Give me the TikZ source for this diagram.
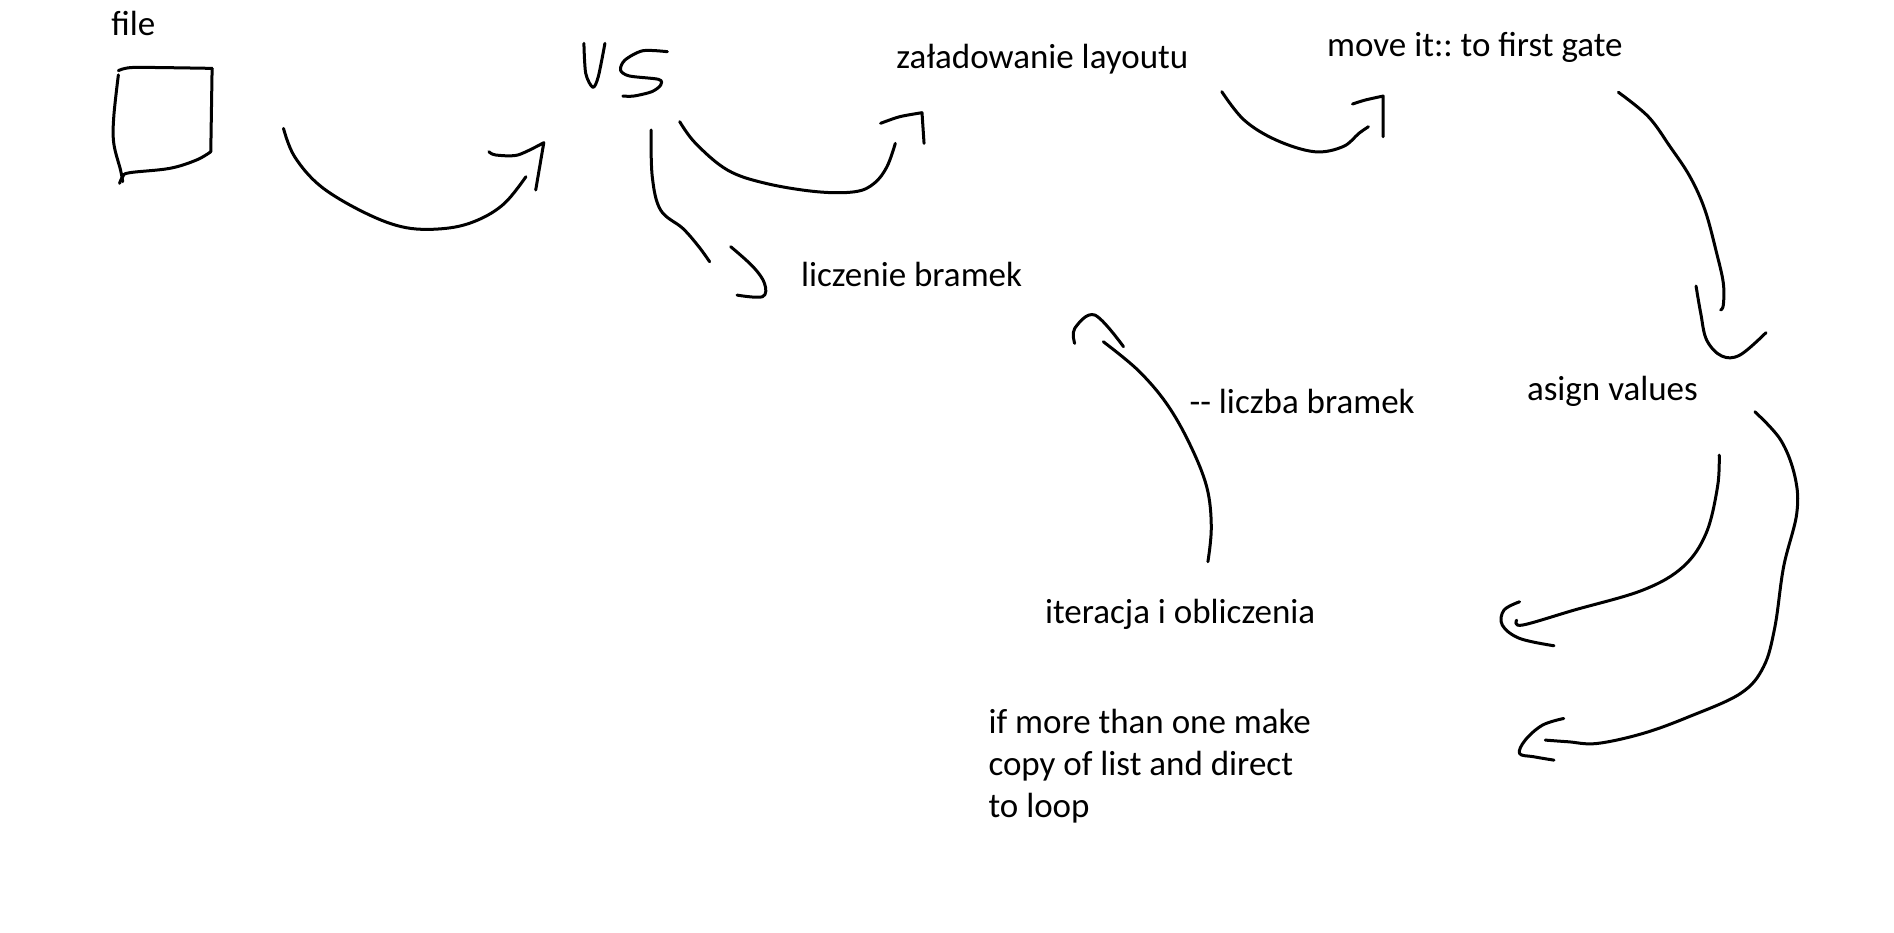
\documentclass[tikz,border=0pt]{standalone}
\usepackage{fontspec}
\setmainfont{Carlito}
\frenchspacing
\begin{document}
\begin{tikzpicture}[x=1.2079pt,y=-1.2079pt,
  pen/.style={line width=3pt,line cap=round,line join=round,black},
  lbl/.style={anchor=base west,inner sep=0pt,font=\fontsize{35}{42}\selectfont}]
\useasboundingbox[fill=white] (0,0) rectangle (1568,772);

% texts
\node[lbl] (file) at (92,29) {file};
\node[lbl] (zal) at (742,56.6) {załadowanie layoutu};
\node[lbl] (move) at (1098.6,47) {move it:: to first gate};
\node[lbl] (licz) at (663,237.4) {liczenie bramek};
\node[lbl] (liczba) at (984.7,342.2) {-{}- liczba bramek};
\node[lbl] (asign) at (1264,331.2) {asign values};
\node[lbl] (iter) at (865,516.1) {iteracja i obliczenia};
\node[lbl] (ifmore) at (818.2,607.2) {\begin{tabular}[t]{@{}l@{}}if more than one make\\copy of list and direct\\to loop\end{tabular}};

% file box
\draw[pen] plot[smooth,tension=0.4] coordinates {(98,58.5) (110.9,55.8) (175.6,56.6)};
\draw[pen] (175.6,56.6) -- (174.5,125.6);
\draw[pen] plot[smooth,tension=0.6] coordinates {(174.5,125.6) (162.6,132.5) (140.4,139.4) (107.2,143) (101.6,146.3) (99,151.8)};
\draw[pen] plot[smooth,tension=0.6] coordinates {(98,62) (94.2,96.6) (94.2,118.7) (99.8,140.8) (101.6,150.4)};

% arrow file -> VS
\draw[pen] plot[smooth,tension=0.6] coordinates {(234.7,106.3) (243.9,129.7) (266,154.6) (303,176.6) (336.3,188.5) (369.6,189) (395.5,182.2) (417.6,168.4) (435.4,146.3)};
\draw[pen] plot[smooth,tension=0.5] coordinates {(404.7,125.6) (410.3,128.3) (428.7,128.3) (450.2,118.1)} -- (443.5,157.3);

% VS handwritten
\draw[pen] plot[smooth,tension=0.5] coordinates {(483.4,35.9) (484.9,60.7) (490.8,72.3) (495.3,63.5) (500.8,35.9)};
\draw[pen] plot[smooth,tension=0.5] coordinates {(552.5,42.8) (532.2,42) (517.4,49.7) (513.7,58) (521.1,62.9) (545.2,65.7) (547,70.4) (539.6,75.9) (524.8,79.5) (515.6,79.5)};

% arrow VS -> zaladowanie
\draw[pen] plot[smooth,tension=0.6] coordinates {(562.7,100.7) (575.9,118.7) (602.3,140.8) (634,151.8) (676.2,158.7) (707.9,158.7) (723.7,151.8) (734.3,138) (741.2,118.7)};
\draw[pen] plot[smooth,tension=0.5] coordinates {(729,102.1) (744.9,96.6) (763.3,93.3)} -- (765,118.7);

% arrow VS -> liczenie
\draw[pen] plot[smooth,tension=0.6] coordinates {(539,107.6) (540,146.3) (546.9,173.9) (565.3,189.1) (578.5,204.2) (587.5,216.7)};
\draw[pen] plot[smooth,tension=0.6] coordinates {(604.9,204.2) (623.4,220.8) (632.9,234.6) (631.3,245.6) (610.2,244.3)};

% arrow zaladowanie -> move
\draw[pen] plot[smooth,tension=0.6] coordinates {(1011.5,75.9) (1030,99.4) (1056.4,115.9) (1088.1,125.6) (1111.8,121.4) (1125,110.4) (1132.9,104.9)};
\draw[pen] plot[smooth,tension=0.5] coordinates {(1119.7,86.1) (1130.3,82.8) (1145.1,79.5)} -- (1145.1,113.2);

% arrow move -> asign
\draw[pen] plot[smooth,tension=0.6] coordinates {(1339.8,76.4) (1364.6,96.6) (1382.6,121.4) (1399.1,146.3) (1411.5,173.9) (1421.2,209.7) (1426.7,234.5) (1426.7,252.5) (1424.5,256.6)};
\draw[pen] plot[smooth,tension=0.6] coordinates {(1404.1,236.8) (1408,259.4) (1412.9,281.5) (1425.3,294.7) (1440.5,293.9) (1462,275.4)};

% arrow iteracja -> liczenie
\draw[pen] plot[smooth,tension=0.6] coordinates {(1000,465) (1002.8,436.1) (999,403) (984.7,367.1) (965.7,334) (942,306.4) (913.4,282.9)};
\draw[pen] plot[smooth,tension=0.6] coordinates {(930.1,287) (906.3,260.8) (889.7,271.9) (889.7,284.3)};

% arrow asign -> left branch
\draw[pen] plot[smooth,tension=0.6] coordinates {(1423.3,376.7) (1421.9,403) (1412.4,441.6) (1393.4,469.2) (1360.1,488.5) (1303.1,505.1) (1260.3,517.5) (1255.6,513.4)};
\draw[pen] plot[smooth,tension=0.6] coordinates {(1258,498.2) (1245.1,505.1) (1243.7,517.5) (1258,528.5) (1286.5,534.6)};

% arrow asign -> right branch
\draw[pen] plot[smooth,tension=0.6] coordinates {(1452.8,340.9) (1474.2,364.3) (1486,394.7) (1487.5,425) (1476.6,469.2) (1469.4,518.9) (1460,552) (1440.9,574.1) (1398.1,593.4) (1360.1,607.2) (1322.1,615.5) (1298.4,614.1) (1279.3,612.7)};
\draw[pen] plot[smooth,tension=0.6] coordinates {(1294.6,594.8) (1277,600.3) (1262.7,612.7) (1258,623.8) (1269.8,626.5) (1286.5,629.3)};
\end{tikzpicture}
\end{document}
